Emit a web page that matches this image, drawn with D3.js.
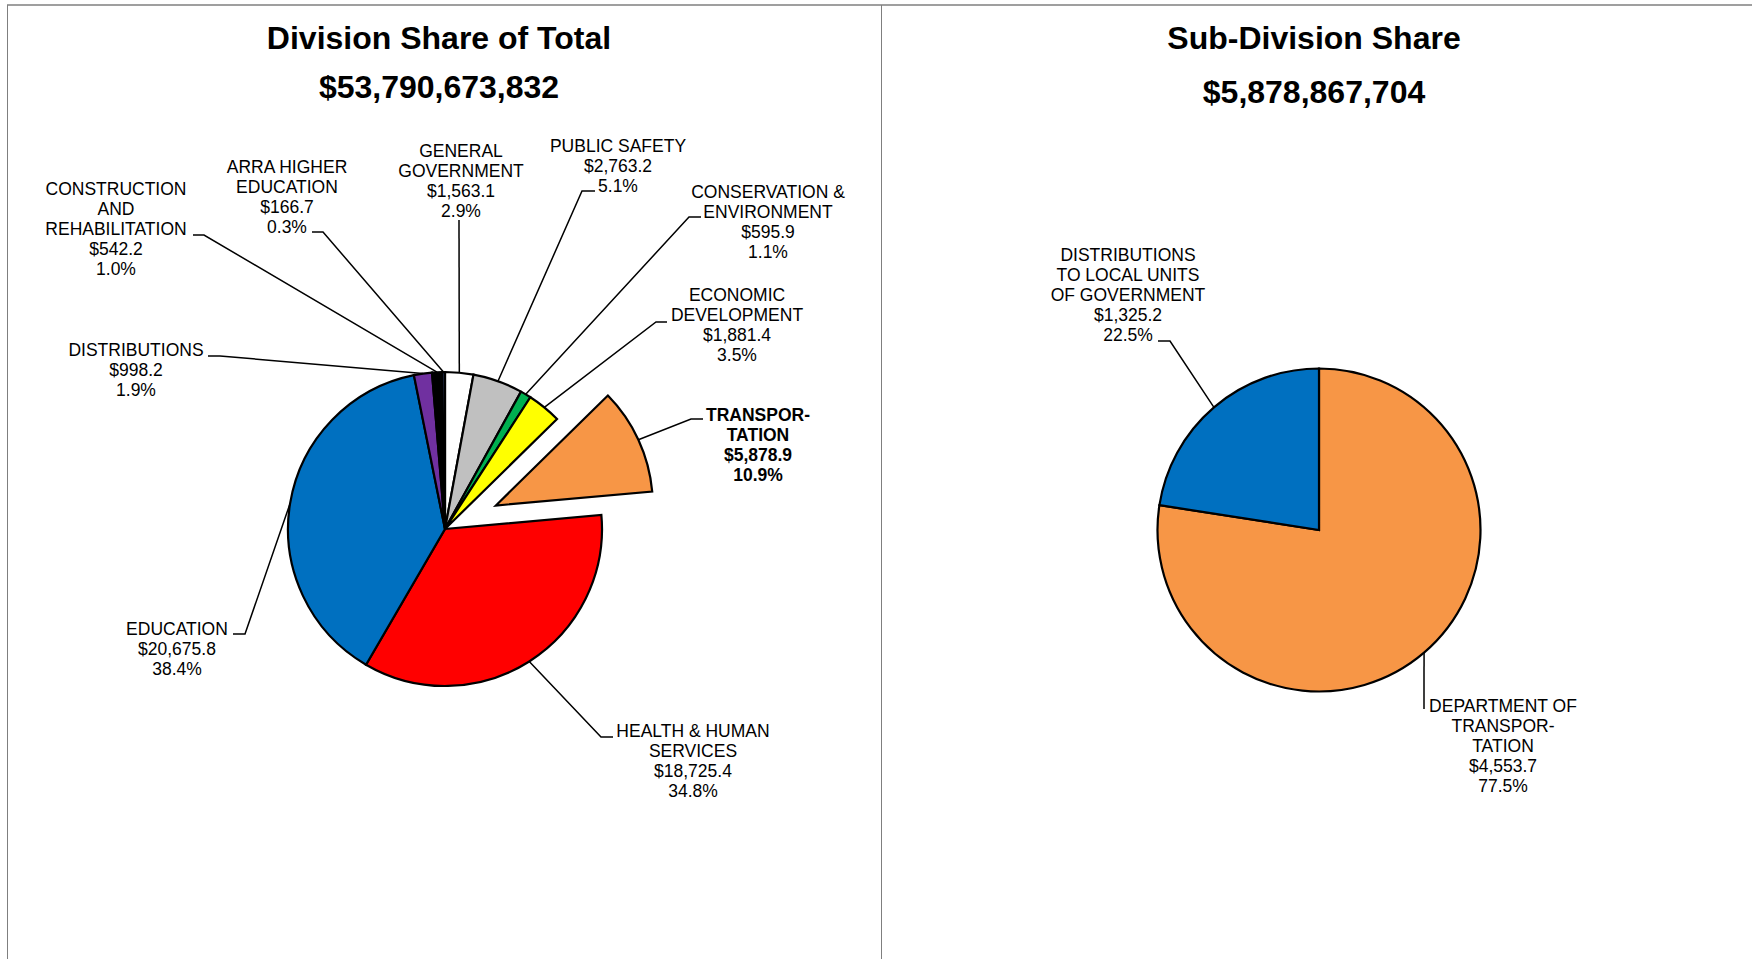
<!DOCTYPE html>
<html>
<head>
<meta charset="utf-8">
<script src="https://cdn.jsdelivr.net/npm/d3@7"></script>
<style>
  html, body { margin: 0; padding: 0; background: #fff; }
  svg { display: block; font-family: "Liberation Sans", Arial, sans-serif; }
</style>
</head>
<body>
<script>
// division data ($ millions), in pie order starting at 12 o'clock
var divNames = ["GENERAL\nGOVERNMENT", "PUBLIC SAFETY", "CONSERVATION &\nENVIRONMENT", "ECONOMIC\nDEVELOPMENT",
  "TRANSPOR-\nTATION", "HEALTH & HUMAN\nSERVICES", "EDUCATION", "DISTRIBUTIONS",
  "CONSTRUCTION\nAND\nREHABILITATION", "ARRA HIGHER\nEDUCATION"];
var divValues = [1563.1, 2763.2, 595.9, 1881.4, 5878.9, 18725.4, 20675.8, 998.2, 542.2, 166.7];
var divTotal = "$53,790,673,832";

// sub-division of transportation
var subNames = ["DEPARTMENT OF\nTRANSPOR-\nTATION", "DISTRIBUTIONS\nTO LOCAL UNITS\nOF GOVERNMENT"];
var subValues = [4553.7, 1325.2];
var subTotal = "$5,878,867,704";

var divColors = ["#ffffff", "#c0c0c0", "#00b050", "#ffff00", "#f79646", "#ff0000", "#0070c0", "#7030a0", "#000000", "#1f2a44"];
var subColors = ["#f79646", "#0070c0"];

// label layout: [text center x, first line y, elbow x, elbow y, end of short tick x]
var divLabelPos = [
  [461, 151, 459, 220, 459],
  [618, 146, 582, 191, 595],
  [768, 192, 689, 217, 701],
  [737, 295, 656, 322, 667],
  [758, 415, 691, 419, 703],
  [693, 731, 601, 737, 613],
  [177, 629, 245, 634, 233],
  [136, 350, 220, 356, 208],
  [116, 189, 204, 235, 193],
  [287, 167, 323, 232, 312]
];
var subLabelPos = [
  [1503, 706, 1424, 709, 1424],
  [1128, 255, 1170, 341, 1158]
];

var W = 1752, H = 959;
var fmtVal = d3.format(",.1f");
var fmtPct = d3.format(".1%");

var svg = d3.select("body").append("svg").attr("width", W).attr("height", H);

// frame
svg.append("line").attr("x1", 7).attr("x2", W).attr("y1", 5).attr("y2", 5)
  .attr("stroke", "#7f7f7f").attr("stroke-width", 1.5);
svg.append("line").attr("x1", 7.5).attr("x2", 7.5).attr("y1", 5).attr("y2", H)
  .attr("stroke", "#7f7f7f").attr("stroke-width", 1);
svg.append("line").attr("x1", 881.5).attr("x2", 881.5).attr("y1", 5).attr("y2", H)
  .attr("stroke", "#7f7f7f").attr("stroke-width", 1);

function drawPie(opt) {
  var g = svg.append("g");
  var total = d3.sum(opt.values);
  var pie = d3.pie().sort(null).value(function (d) { return d; });
  var arcs = pie(opt.values);
  var arc = d3.arc().innerRadius(0).outerRadius(opt.r);

  g.append("text").attr("x", opt.tx).attr("y", 38).attr("dy", "0.35em")
    .attr("text-anchor", "middle").attr("font-size", 32).attr("font-weight", "bold")
    .text(opt.title);
  g.append("text").attr("x", opt.tx).attr("y", opt.amountY).attr("dy", "0.35em")
    .attr("text-anchor", "middle").attr("font-size", 32).attr("font-weight", "bold")
    .text(opt.amount);

  function offset(d, i) {
    var a = (d.startAngle + d.endAngle) / 2;
    var e = opt.explode[i] || 0;
    return [opt.cx + e * Math.sin(a), opt.cy - e * Math.cos(a)];
  }

  g.selectAll(".slice").data(arcs).enter().append("path")
    .attr("class", "slice")
    .attr("transform", function (d, i) { var o = offset(d, i); return "translate(" + o[0] + "," + o[1] + ")"; })
    .attr("d", arc)
    .attr("fill", function (d, i) { return opt.colors[i]; })
    .attr("stroke", "#000").attr("stroke-width", 2.2).attr("stroke-linejoin", "miter");

  // leader lines
  g.selectAll(".leader").data(arcs).enter().append("polyline")
    .attr("class", "leader")
    .attr("points", function (d, i) {
      var o = offset(d, i);
      var a = (d.startAngle + d.endAngle) / 2;
      var px = o[0] + opt.r * Math.sin(a), py = o[1] - opt.r * Math.cos(a);
      var p = opt.pos[i];
      return [px, py, p[2], p[3], p[4], p[3]].join(",");
    })
    .attr("fill", "none").attr("stroke", "#000").attr("stroke-width", 1.5);

  // labels
  var labels = g.selectAll(".lbl").data(arcs).enter().append("text")
    .attr("class", "lbl")
    .attr("text-anchor", "middle").attr("font-size", 17.5)
    .attr("font-weight", function (d, i) { return opt.bold === i ? "bold" : "normal"; })
    .attr("fill", "#000");
  labels.each(function (d, i) {
    var lines = opt.names[i].split("\n");
    lines.push("$" + fmtVal(d.data));
    lines.push(fmtPct(d.data / total));
    var p = opt.pos[i];
    d3.select(this).selectAll("tspan").data(lines).enter().append("tspan")
      .attr("x", p[0]).attr("y", function (t, k) { return p[1] + k * 20; })
      .attr("dy", "0.35em").text(function (t) { return t; });
  });
}

drawPie({
  names: divNames, values: divValues, colors: divColors, pos: divLabelPos,
  cx: 445, cy: 529, r: 157, explode: [0, 0, 0, 0, 56, 0, 0, 0, 0, 0], bold: 4,
  title: "Division Share of Total", amount: divTotal, tx: 439, amountY: 87
});

drawPie({
  names: subNames, values: subValues, colors: subColors, pos: subLabelPos,
  cx: 1319, cy: 530, r: 161.5, explode: [0, 0], bold: -1,
  title: "Sub-Division Share", amount: subTotal, tx: 1314, amountY: 92
});
</script>
</body>
</html>
